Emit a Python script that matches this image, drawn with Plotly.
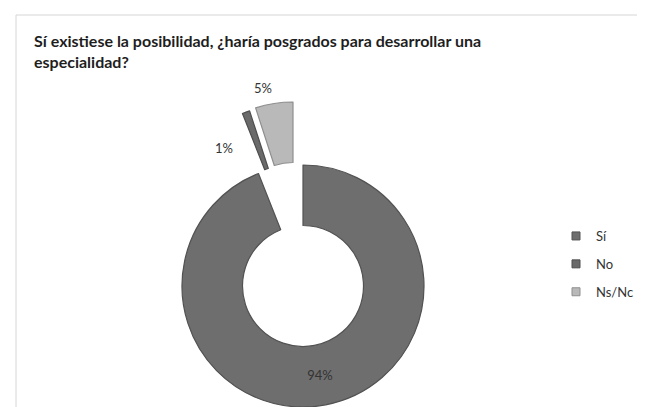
import plotly.graph_objects as go

# ---- data ----
categories = ["Sí", "No", "Ns/Nc"]
values = [94, 1, 5]
title_text = "Sí existiese la posibilidad, ¿haría posgrados para desarrollar una<br>especialidad?"

# ---- styling ----
W, H = 645, 407
slice_colors = ["#6e6e6e", "#6a6a6a", "#b9b9b9"]
edge_colors = ["#525252", "#4e4e4e", "#8f8f8f"]
clear = "rgba(0,0,0,0)"
text_color = "#333333"
FONT = "Lato"


def dom(cx, cy, r):
    return dict(x=[(cx - r) / W, (cx + r) / W], y=[1 - (cy + r) / H, 1 - (cy - r) / H])


R = 121
HOLE = 0.5
# centre of the ring and of the two exploded pieces (pixels)
centres = [(295, 278), (279, 218), (285, 215)]

fig = go.Figure()
for i, (cx, cy) in enumerate(centres):
    cols = [slice_colors[j] if j == i else clear for j in range(len(values))]
    lcols = [edge_colors[j] if j == i else clear for j in range(len(values))]
    lw = [1.2 if j == i else 0 for j in range(len(values))]
    tpos = ["inside" if (j == i and i == 0) else "none" for j in range(len(values))]
    fig.add_trace(go.Pie(
        labels=categories, values=values, sort=False, direction="clockwise", rotation=0,
        hole=HOLE, domain=dom(cx, cy, R),
        marker=dict(colors=cols, line=dict(color=lcols, width=lw)),
        textinfo="percent", textposition=tpos, insidetextorientation="horizontal",
        textfont=dict(family=FONT, size=13, color=text_color),
        showlegend=False, hoverinfo="label+percent",
    ))

# legend entries
for j, name in enumerate(categories):
    fig.add_trace(go.Scatter(
        x=[None], y=[None], mode="markers", name=name, legendgroup=name,
        marker=dict(symbol="square", size=8, color=slice_colors[j],
                    line=dict(color=edge_colors[j], width=1)),
    ))

# outside labels for the exploded pieces
total = sum(values)
label_pos = {1: (205, 140), 2: (255, 70)}
for j, (px, py) in label_pos.items():
    fig.add_annotation(
        x=px / W, y=1 - py / H, xref="paper", yref="paper",
        text=f"{round(values[j] / total * 100)}%", showarrow=False,
        font=dict(family=FONT, size=13, color=text_color),
    )

# title
fig.add_annotation(
    x=24 / W, y=1 - 21 / H, xref="paper", yref="paper", xanchor="left", yanchor="top",
    align="left", text=f"<b>{title_text}</b>", showarrow=False,
    font=dict(family=FONT, size=16, color="#1e1e1e"),
)

fig.update_layout(
    width=W, height=H, margin=dict(l=0, r=0, t=0, b=0),
    paper_bgcolor="white", plot_bgcolor="white",
    xaxis=dict(visible=False), yaxis=dict(visible=False),
    legend=dict(x=548 / W, y=1 - 213 / H, xanchor="left", yanchor="top",
                traceorder="grouped", tracegroupgap=8, itemwidth=30,
                font=dict(family=FONT, size=13, color=text_color)),
    shapes=[dict(type="rect", xref="paper", yref="paper",
                 x0=8 / W, x1=639 / W, y0=-0.05, y1=1 - 7 / H,
                 line=dict(color="#d6d6d6", width=1))],
)

fig.write_html("out.html")
